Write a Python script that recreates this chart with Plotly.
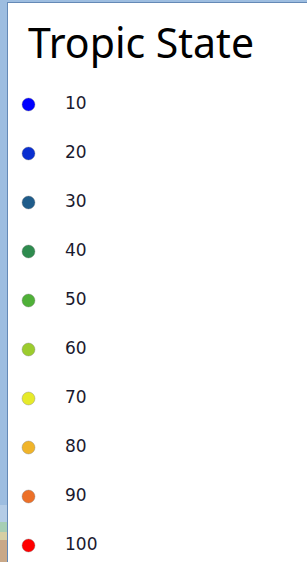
import plotly.graph_objects as go

# ---- data ----
title_text = "Tropic State"
labels = ["10", "20", "30", "40", "50", "60", "70", "80", "90", "100"]
colors = ["#0000ff", "#0a2fd0", "#1f5c8a", "#2e8b4e", "#4fb038",
          "#9ccc2e", "#e6ea2a", "#f0b42a", "#ec7028", "#ff0000"]

W, H = 307, 562
idx = list(range(len(labels)))

fig = go.Figure()
# dots
fig.add_trace(go.Scatter(
    x=[28.5] * len(labels), y=idx, mode="markers",
    marker=dict(size=13, color=colors, line=dict(width=1, color="rgba(120,120,120,0.35)")),
    hoverinfo="skip", showlegend=False))
# labels
fig.add_trace(go.Scatter(
    x=[65] * len(labels), y=idx, mode="text", text=labels,
    textposition="middle right",
    textfont=dict(family="DejaVu Sans", size=17, color="#1a1a2e"),
    hoverinfo="skip", showlegend=False))

px_per_row = 49.0
first_row_px = 104.5
r0 = -first_row_px / px_per_row
r1 = r0 + H / px_per_row

def py(p):
    return r0 + p / px_per_row

shapes = [
    # left blue strip
    dict(type="rect", xref="x", yref="paper", x0=0, x1=7, y0=0, y1=1,
         fillcolor="#9dbde0", line=dict(width=0), layer="below"),
    # bottom scenery on strip
    dict(type="rect", xref="x", yref="y", x0=0, x1=7, y0=py(505), y1=py(522),
         fillcolor="#b4cce6", line=dict(width=0), layer="below"),
    dict(type="rect", xref="x", yref="y", x0=0, x1=7, y0=py(522), y1=py(532),
         fillcolor="#a6ceb4", line=dict(width=0), layer="below"),
    dict(type="rect", xref="x", yref="y", x0=0, x1=7, y0=py(532), y1=py(540),
         fillcolor="#d6cfa4", line=dict(width=0), layer="below"),
    dict(type="rect", xref="x", yref="y", x0=0, x1=7, y0=py(540), y1=r1,
         fillcolor="#c9a888", line=dict(width=0), layer="below"),
    # top strip
    dict(type="rect", xref="x", yref="y", x0=0, x1=W, y0=r0, y1=py(2),
         fillcolor="#9dbde0", line=dict(width=0), layer="below"),
    # dark edges
    dict(type="line", xref="x", yref="y", x0=7.5, x1=7.5, y0=py(2), y1=r1,
         line=dict(color="#6489b6", width=1)),
    dict(type="line", xref="x", yref="y", x0=7.5, x1=W, y0=py(2.5), y1=py(2.5),
         line=dict(color="#6489b6", width=1)),
]

fig.update_layout(
    width=W, height=H,
    margin=dict(l=0, r=0, t=0, b=0),
    paper_bgcolor="white", plot_bgcolor="white",
    xaxis=dict(range=[0, W], visible=False, fixedrange=True),
    yaxis=dict(range=[r1, r0], visible=False, fixedrange=True),
    shapes=shapes,
    annotations=[dict(
        text=title_text, xref="x", yref="y", x=26, y=py(42),
        xanchor="left", yanchor="middle", showarrow=False,
        font=dict(family="Noto Sans", size=41, color="#000000"))],
)

fig.write_html("out.html", config={"displayModeBar": False},
               post_script="document.body.style.margin='0';document.body.style.overflow='hidden';")
